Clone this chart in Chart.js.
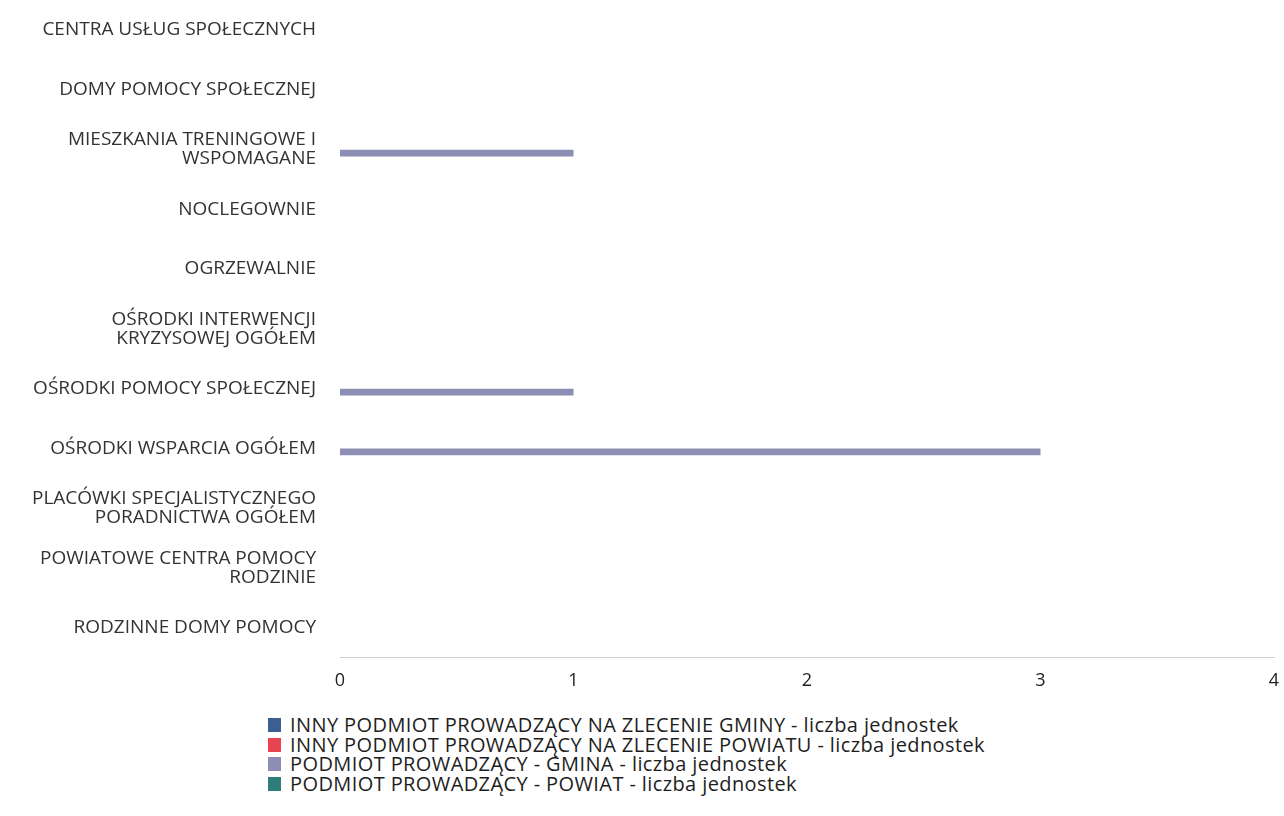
<!DOCTYPE html>
<html>
<head>
<meta charset="utf-8">
<script src="https://cdn.jsdelivr.net/npm/chart.js@4"></script>
<style>
  body { margin: 0; background: #fff; font-family: "Open Sans", sans-serif; }
  #wrap { width: 1284px; height: 705px; position: relative; }
  #legend { position: absolute; left: 268px; top: 715px; }
  #legend ul { list-style: none; margin: 0; padding: 0; }
  #legend li { display: flex; align-items: center; font-size: 20px; letter-spacing: 0.4px; color: #1e1e1e; line-height: 19.7px; height: 19.7px; white-space: nowrap; }
  #legend span.box { display: inline-block; width: 13px; height: 14px; margin-right: 9px; }
</style>
</head>
<body>
<div id="wrap"><canvas id="chart"></canvas></div>
<div id="legend"></div>
<script>
// categories (multi-line labels kept as arrays)
const categories = [
    'CENTRA USŁUG SPOŁECZNYCH',
    'DOMY POMOCY SPOŁECZNEJ',
    ['MIESZKANIA TRENINGOWE I', 'WSPOMAGANE'],
    'NOCLEGOWNIE',
    'OGRZEWALNIE',
    ['OŚRODKI INTERWENCJI', 'KRYZYSOWEJ OGÓŁEM'],
    'OŚRODKI POMOCY SPOŁECZNEJ',
    'OŚRODKI WSPARCIA OGÓŁEM',
    ['PLACÓWKI SPECJALISTYCZNEGO', 'PORADNICTWA OGÓŁEM'],
    ['POWIATOWE CENTRA POMOCY', 'RODZINIE'],
    'RODZINNE DOMY POMOCY'
];

const seriesNames = [
    'INNY PODMIOT PROWADZĄCY NA ZLECENIE GMINY - liczba jednostek',
    'INNY PODMIOT PROWADZĄCY NA ZLECENIE POWIATU - liczba jednostek',
    'PODMIOT PROWADZĄCY - GMINA - liczba jednostek',
    'PODMIOT PROWADZĄCY - POWIAT - liczba jednostek'
];

const innyGmina  = [0, 0, 0, 0, 0, 0, 0, 0, 0, 0, 0];
const innyPowiat = [0, 0, 0, 0, 0, 0, 0, 0, 0, 0, 0];
const gmina      = [0, 0, 1, 0, 0, 0, 1, 3, 0, 0, 0];
const powiat     = [0, 0, 0, 0, 0, 0, 0, 0, 0, 0, 0];

const xTicks = [0, 1, 2, 3, 4];

const seriesColors = ['#3b5f90', '#e8434f', '#8c8fb3', '#2d7d7a'];

const ctx = document.getElementById('chart').getContext('2d');

const chart = new Chart(ctx, {
    type: 'bar',
    data: {
        labels: categories,
        datasets: [innyGmina, innyPowiat, gmina, powiat].map((d, i) => ({
            label: seriesNames[i],
            data: d,
            backgroundColor: seriesColors[i],
            borderWidth: 0,
            categoryPercentage: 0.5,
            barPercentage: 0.9
        }))
    },
    options: {
        indexAxis: 'y',
        responsive: true,
        maintainAspectRatio: false,
        animation: false,
        layout: { padding: { top: -4, right: 0, bottom: 0, left: 8 } },
        plugins: {
            legend: { display: false },
            tooltip: { enabled: false }
        },
        scales: {
            x: {
                min: xTicks[0],
                max: xTicks[xTicks.length - 1],
                afterBuildTicks: axis => { axis.ticks = xTicks.map(v => ({ value: v })); },
                afterFit: axis => { axis.paddingRight = 10; },
                grid: { display: false, drawTicks: false },
                border: { display: true, color: '#d0d0d0', width: 1 },
                ticks: {
                    padding: 13,
                    color: '#222',
                    font: { family: 'Open Sans', size: 18 }
                }
            },
            y: {
                afterFit: axis => {
                    axis.width = 332;
                    axis.paddingTop = 0;
                    axis.paddingBottom = 0;
                },
                grid: { display: false, drawTicks: false },
                border: { display: false },
                ticks: {
                    padding: 24,
                    color: '#333',
                    font: { family: 'Open Sans', size: 19, lineHeight: 1.0 }
                }
            }
        }
    }
});

// legend built from the chart's own datasets
const ul = document.createElement('ul');
chart.data.datasets.forEach(ds => {
    const li = document.createElement('li');
    const box = document.createElement('span');
    box.className = 'box';
    box.style.background = ds.backgroundColor;
    li.appendChild(box);
    li.appendChild(document.createTextNode(ds.label));
    ul.appendChild(li);
});
document.getElementById('legend').appendChild(ul);
</script>
</body>
</html>
